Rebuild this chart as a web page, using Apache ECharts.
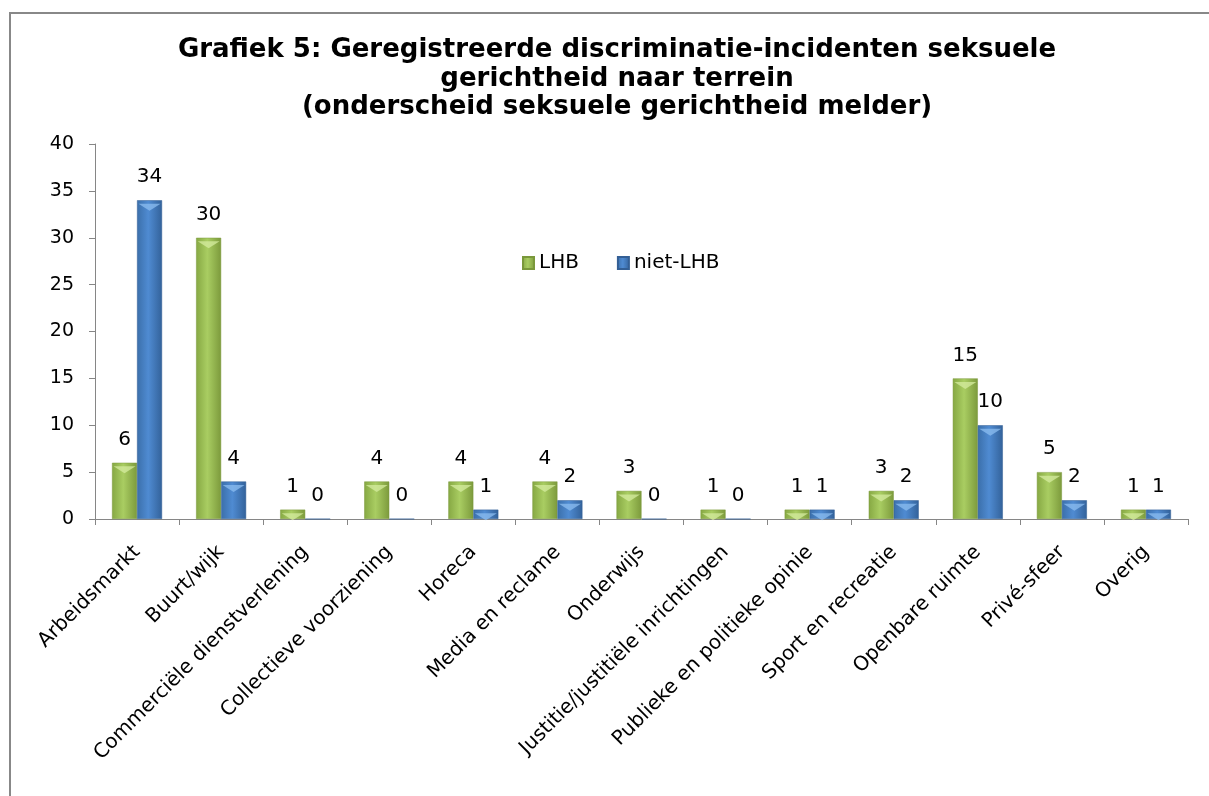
<!DOCTYPE html>
<html><head><meta charset="utf-8">
<script src="https://cdn.jsdelivr.net/npm/echarts@6/dist/echarts.min.js"></script>
<style>html,body{margin:0;padding:0;background:#fff}#c{width:1209px;height:796px}</style>
</head><body><div id="c"></div>
<script>
const categories = ["Arbeidsmarkt","Buurt/wijk","Commerciële dienstverlening","Collectieve voorziening","Horeca","Media en reclame","Onderwijs","Justitie/justitiële inrichtingen","Publieke en politieke opinie","Sport en recreatie","Openbare ruimte","Privé-sfeer","Overig"];
const lhb = [6,30,1,4,4,4,3,1,1,3,15,5,1];
const nietLhb = [34,4,0,0,1,2,0,0,1,2,10,2,1];
const yTicks = [0,5,10,15,20,25,30,35,40];
const FONT = "DejaVu Sans";
function grad(a,b,c){return new echarts.graphic.LinearGradient(0,0,1,0,[{offset:0,color:a},{offset:0.45,color:b},{offset:1,color:c}]);}
function bevel(name,arr,color){
  return {name:name+' bevel',type:'pictorialBar',data:arr.map(v=>v>0?v:'-'),barWidth:25,barGap:'0%',
    symbol:'triangle',symbolRotate:180,symbolPosition:'end',symbolSize:[22,7],symbolOffset:[0,'50%'],
    itemStyle:{color:color},silent:true,z:3,label:{show:false}};
}
const chart = echarts.init(document.getElementById('c'));
chart.setOption({
  animation:false,
  backgroundColor:'#fff',
  textStyle:{fontFamily:FONT},
  title:{text:"Grafiek 5: Geregistreerde discriminatie-incidenten seksuele\ngerichtheid naar terrein\n(onderscheid seksuele gerichtheid melder)",
    left:612, textAlign:'center', top:31,
    textStyle:{fontFamily:FONT,fontWeight:'bold',fontSize:26,lineHeight:28.5,color:'#000'}},
  legend:{left:517, top:248, itemWidth:11, itemHeight:12, itemGap:38,
    textStyle:{fontFamily:FONT,fontSize:20,color:'#000'},
    data:[{name:'LHB',icon:'rect'},{name:'niet-LHB',icon:'rect'}]},
  graphic:[{type:'rect',shape:{x:10,y:13,width:1300,height:900},style:{fill:'none',stroke:'#888',lineWidth:2},silent:true,z:-1}],
  grid:{left:95,right:21,top:144,bottom:277,containLabel:false},
  xAxis:{type:'category',data:categories,
    axisLine:{lineStyle:{color:'#868686',width:1}},
    axisTick:{show:true,length:6,lineStyle:{color:'#868686'}},
    axisLabel:{rotate:45,interval:0,margin:30,fontFamily:FONT,fontSize:20,color:'#000'}},
  yAxis:{type:'value',min:0,max:40,interval:5,
    axisLine:{show:true,lineStyle:{color:'#868686'}},
    axisTick:{show:true,length:6,lineStyle:{color:'#868686'}},
    splitLine:{show:false},
    axisLabel:{fontFamily:FONT,fontSize:19,color:'#000',margin:21,
      formatter:function(v){return yTicks.indexOf(v)>=0?String(v):'';}}},
  series:[
    {name:'LHB',type:'bar',data:lhb,barWidth:25,barGap:'0%',
      itemStyle:{color:grad('#86a843','#a9cd62','#7c9a3c'),borderColor:'#7a983b',borderWidth:0.5},
      label:{show:true,position:'top',distance:13,fontFamily:FONT,fontSize:20,color:'#000'}},
    {name:'niet-LHB',type:'bar',data:nietLhb,barWidth:25,
      itemStyle:{color:grad('#3b6faa','#4f8bd2','#33629a'),borderColor:'#335f95',borderWidth:0.5},
      label:{show:true,position:'top',distance:13,fontFamily:FONT,fontSize:20,color:'#000'}},
    bevel('LHB',lhb,'rgba(214,236,160,0.75)'),
    bevel('niet-LHB',nietLhb,'rgba(140,190,240,0.75)')
  ]
});
</script></body></html>
